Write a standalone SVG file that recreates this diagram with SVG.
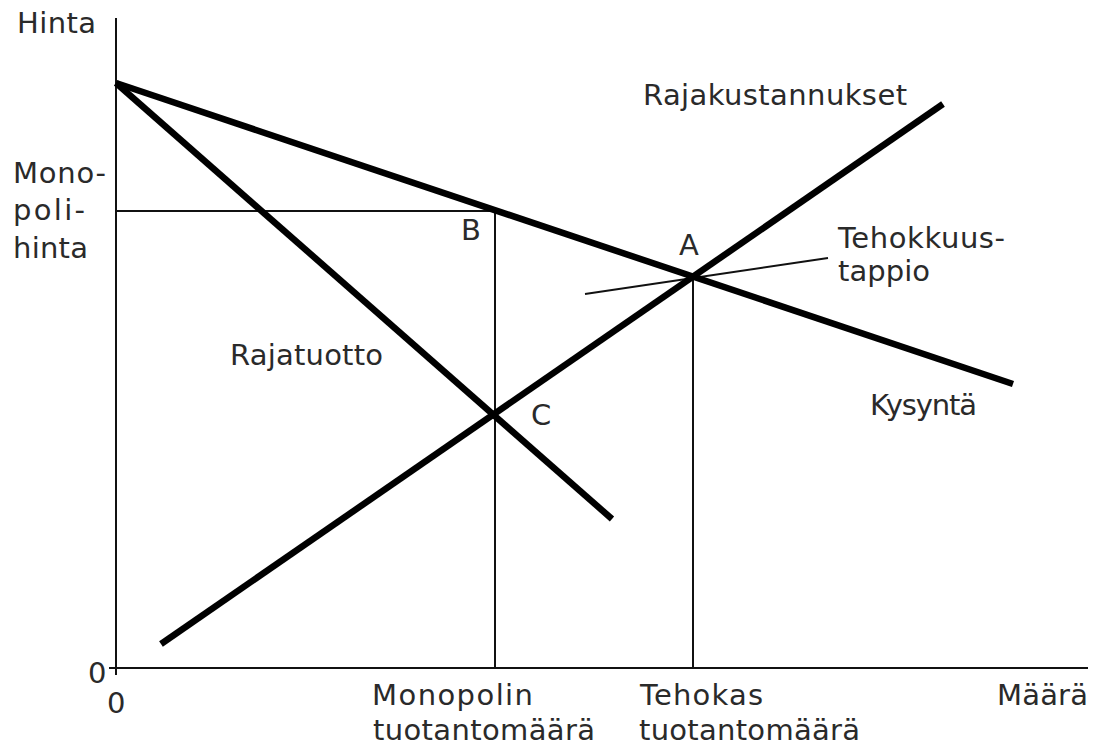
<svg xmlns="http://www.w3.org/2000/svg" width="1095" height="749" viewBox="0 0 1095 749">
<style>
.t{font-family:"DejaVu Sans","Verdana",sans-serif;font-size:29px;fill:#2a2a2a}
.thin{stroke:#111;stroke-width:2;fill:none}
.thick{stroke:#000;stroke-width:6.5;fill:none;stroke-linecap:butt}
</style>
<rect width="1095" height="749" fill="#fff"/>
<g id="axes">
<line class="thin" x1="116" y1="18" x2="116" y2="675"/>
<line class="thin" x1="109" y1="668" x2="1088" y2="668"/>
</g>
<g id="guides">
<line class="thin" x1="116" y1="211" x2="495" y2="211"/>
<line class="thin" x1="495" y1="211" x2="495" y2="668"/>
<line class="thin" x1="693" y1="277" x2="693" y2="668"/>
<line class="thin" x1="585" y1="294" x2="828" y2="258"/>
</g>
<g id="curves">
<line class="thick" x1="116" y1="83" x2="1013" y2="384"/>
<line class="thick" x1="116" y1="83" x2="612" y2="519"/>
<line class="thick" x1="161" y1="644" x2="943" y2="104"/>
</g>
<g id="labels">
<text class="t" x="17" y="33" textLength="79" lengthAdjust="spacing">Hinta</text>
<text class="t" x="13" y="183" textLength="93" lengthAdjust="spacing">Mono-</text>
<text class="t" x="13" y="220" textLength="72" lengthAdjust="spacing">poli-</text>
<text class="t" x="13" y="258" textLength="75" lengthAdjust="spacing">hinta</text>
<text class="t" x="88" y="683">0</text>
<text class="t" x="107" y="713">0</text>
<text class="t" x="372" y="705" textLength="161" lengthAdjust="spacing">Monopolin</text>
<text class="t" x="373" y="740" textLength="222" lengthAdjust="spacing">tuotantomäärä</text>
<text class="t" x="640" y="705" textLength="123" lengthAdjust="spacing">Tehokas</text>
<text class="t" x="639" y="740" textLength="221" lengthAdjust="spacing">tuotantomäärä</text>
<text class="t" x="997" y="705" textLength="91" lengthAdjust="spacing">Määrä</text>
<text class="t" x="461" y="240">B</text>
<text class="t" x="679" y="255">A</text>
<text class="t" x="531" y="425">C</text>
<text class="t" x="230" y="365" textLength="153" lengthAdjust="spacing">Rajatuotto</text>
<text class="t" x="870" y="415" textLength="107" lengthAdjust="spacing">Kysyntä</text>
<text class="t" x="643" y="105" textLength="264" lengthAdjust="spacing">Rajakustannukset</text>
<text class="t" x="838" y="248" textLength="167" lengthAdjust="spacing">Tehokkuus-</text>
<text class="t" x="838" y="281" textLength="92" lengthAdjust="spacing">tappio</text>
</g>
</svg>
